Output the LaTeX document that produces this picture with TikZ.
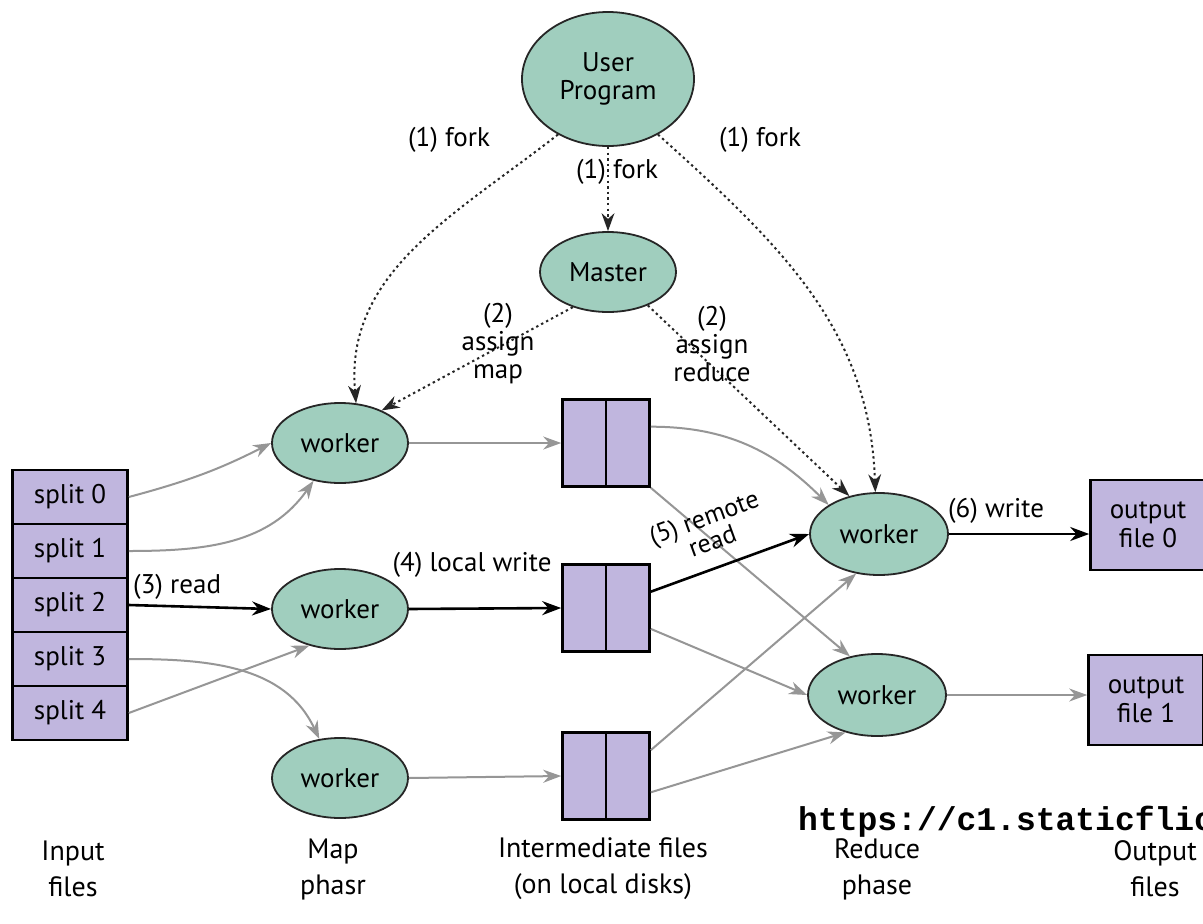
\documentclass[tikz,border=0pt]{standalone}
\usepackage{fontspec}
\setmainfont{PT Sans}
\newfontfamily\urlfont{Liberation Mono}
\usetikzlibrary{arrows.meta,shapes.geometric}
\definecolor{tealfill}{RGB}{160,206,190}
\definecolor{lavfill}{RGB}{192,182,222}
\definecolor{arrgray}{RGB}{150,150,150}
\begin{document}
\begin{tikzpicture}[x=1pt,y=-1pt,
  every node/.style={font=\fontsize{27}{28}\selectfont, inner sep=1pt},
  proc/.style={ellipse, draw=black!85, line width=1.8pt, fill=tealfill, minimum width=136pt, minimum height=80pt, inner sep=0pt},
  splitbox/.style={rectangle, draw=black, line width=2.6pt, fill=lavfill, minimum width=115pt, minimum height=54pt, inner sep=0pt},
  outbox/.style={rectangle, draw=black, line width=2.6pt, fill=lavfill, minimum width=115pt, minimum height=90pt, inner sep=0pt, align=center, font=\fontsize{27}{29}\selectfont},
  interbox/.style={rectangle, draw=black, line width=2.6pt, fill=lavfill, minimum width=87pt, minimum height=87pt, inner sep=0pt,
     path picture={\draw[line width=2.6pt] (path picture bounding box.north) -- (path picture bounding box.south);}},
  garrow/.style={draw=arrgray, line width=2pt, -{Stealth[length=18pt,width=13pt]}},
  barrow/.style={draw=black, line width=2.6pt, -{Stealth[length=19pt,width=14pt]}},
  darrow/.style={draw=black!85, line width=2pt, dash pattern=on 2.4pt off 3.2pt, -{Stealth[length=18pt,width=13pt,line width=0pt]}},
  lbl/.style={align=center, font=\fontsize{27}{28}\selectfont},
  foot/.style={align=center, font=\fontsize{28}{36}\selectfont}
]
\useasboundingbox (0,0) rectangle (1203,924);
\fill[white] (0,0) rectangle (1203,924);

% ellipses
\node[proc, minimum width=172pt, minimum height=134pt, align=center] (up) at (608,79) {User\\Program};
\node[proc] (master) at (608,272) {Master};
\node[proc] (mw1) at (340,443) {worker};
\node[proc] (mw2) at (340,609) {worker};
\node[proc] (mw3) at (340,778) {worker};
\node[proc, minimum width=138pt, minimum height=82pt] (rw1) at (879,534) {worker};
\node[proc, minimum width=138pt, minimum height=82pt] (rw2) at (877,695) {worker};

% splits
\node[splitbox] (s0) at (70,497) {split 0};
\node[splitbox] (s1) at (70,551) {split 1};
\node[splitbox] (s2) at (70,605) {split 2};
\node[splitbox] (s3) at (70,659) {split 3};
\node[splitbox] (s4) at (70,713) {split 4};

% intermediate
\node[interbox] (i1) at (606,443) {};
\node[interbox] (i2) at (606,608) {};
\node[interbox] (i3) at (606,776) {};

% outputs
\node[outbox] (o0) at (1148,525) {output\\file 0};
\node[outbox] (o1) at (1146,700) {output\\file 1};

% dotted fork / assign
\draw[darrow] (up.228) to[out=218,in=95] (mw1.68);
\draw[darrow] (up.south) -- (master.north);
\draw[darrow] (up.-48) to[out=-42,in=92] (rw1.95);
\draw[darrow] (master.225) -- (mw1.38);
\draw[darrow] (master.-40) -- (rw1.128);

\node[lbl] (f1) at (449,140) {(1) fork};
\node[lbl] (f2) at (617,172) {(1) fork};
\node[lbl] (f3) at (760,140) {(1) fork};
\node[lbl] (am) at (498,344) {(2)\\assign\\map};
\node[lbl] (ar) at (712,344) {(2)\\assign\\reduce};

% input -> map
\draw[garrow] (s0.east) to[out=15,in=207] (mw1.west);
\draw[garrow] (s1.east) to[out=0,in=235] (mw1.-125);
\draw[barrow] (s2.east) -- (mw2.west);
\draw[garrow] (s3.east) to[out=0,in=115] (mw3.118);
\draw[garrow] (s4.east) -- (mw2.-130);
\node[lbl, anchor=south west] (rd) at (132,601) {(3) read};

% map -> intermediate
\draw[garrow] (mw1.east) -- (i1.west);
\draw[barrow] (mw2.east) -- (i2.west);
\draw[garrow] (mw3.east) -- (i3.west);
\node[lbl] (lw) at (472,565) {(4) local write};

% intermediate -> reduce
\draw[garrow] (i1.20) to[out=0,in=135] (rw1.150);
\draw[garrow] (i1.-45) -- (rw2.125);
\draw[barrow] (i2.20) -- (rw1.west);
\draw[garrow] (i2.-25) -- (rw2.west);
\draw[garrow] (i3.30) -- (rw1.-120);
\draw[garrow] (i3.-20) -- (rw2.-130);
\node[lbl, rotate=20, font=\fontsize{26}{25}\selectfont] (rr) at (708,529) {(5) remote\\read};

% reduce -> output
\draw[barrow] (rw1.east) -- (o0.west |- rw1.east);
\draw[garrow] (rw2.east) -- (o1.west |- rw2.east);
\node[lbl] (wr) at (996,511) {(6) write};

% url
\node[anchor=base west, inner sep=0pt, font=\urlfont\bfseries\fontsize{33}{40}\selectfont] (url) at (798,830) {https://c1.staticflic};

% footer
\node[foot] (fi) at (73,869) {Input\\files};
\node[foot] (fm) at (333,869) {Map\\phasr};
\node[foot] (fint) at (603,869) {Intermediate files\\(on local disks)};
\node[foot] (fr) at (877,869) {Reduce\\phase};
\node[foot] (fo) at (1155,869) {Output\\files};
\end{tikzpicture}
\end{document}
